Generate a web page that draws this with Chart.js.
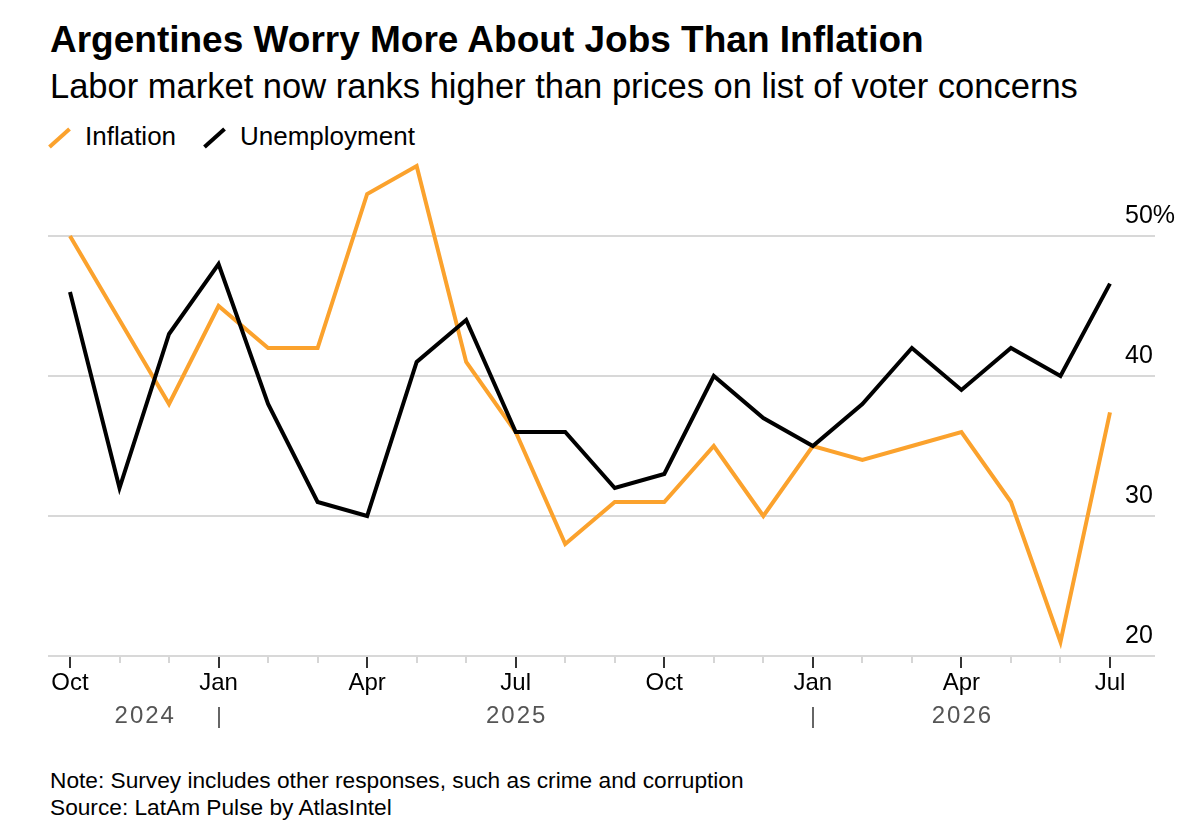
<!DOCTYPE html>
<html lang="en">
<head>
    <meta charset="UTF-8">
    <title>Argentines Worry More About Jobs Than Inflation</title>
    <script src="https://cdn.jsdelivr.net/npm/chart.js"></script>
    <style>
        body { margin: 0; background: #fff; font-family: "Liberation Sans", Arial, sans-serif; color: #000; }
        #page { position: relative; width: 1200px; height: 831px; overflow: hidden; }
        .txt { position: absolute; white-space: nowrap; line-height: 1; }
        #title { left: 50px; top: 21px; font-size: 37px; font-weight: bold; }
        #subtitle { left: 50px; top: 69px; font-size: 34.5px; }
        .legend-text { top: 123px; font-size: 26px; }
        .legend-icon { position: absolute; width: 27px; height: 4px; transform: rotate(-42deg); }
        .note { left: 50px; font-size: 22.7px; }
        #chartBox { position: absolute; left: 0; top: 150px; width: 1200px; height: 580px; }
    </style>
</head>
<body>
    <div id="page">
        <div id="title" class="txt">Argentines Worry More About Jobs Than Inflation</div>
        <div id="subtitle" class="txt">Labor market now ranks higher than prices on list of voter concerns</div>

        <div class="legend-icon" style="left: 46px; top: 136px; background: #fba22d;"></div>
        <div class="txt legend-text" style="left: 85px;">Inflation</div>
        <div class="legend-icon" style="left: 201px; top: 136px; background: #000;"></div>
        <div class="txt legend-text" style="left: 240px;">Unemployment</div>

        <div id="chartBox"><canvas id="chart"></canvas></div>

        <div class="txt note" style="top: 769px;">Note: Survey includes other responses, such as crime and corruption</div>
        <div class="txt note" style="top: 796px;">Source: LatAm Pulse by AtlasIntel</div>
    </div>

    <script>
        // Monthly survey, Oct 2024 - Jul 2026
        const months = ['Oct', 'Nov', 'Dec', 'Jan', 'Feb', 'Mar', 'Apr', 'May', 'Jun', 'Jul', 'Aug', 'Sep',
                        'Oct', 'Nov', 'Dec', 'Jan', 'Feb', 'Mar', 'Apr', 'May', 'Jun', 'Jul'];
        const inflation = [50, 44, 38, 45, 42, 42, 53, 55, 41, 36, 28, 31,
                           31, 35, 30, 35, 34, 35, 36, 31, 21, 37.4];
        const unemployment = [46, 32, 43, 48, 38, 31, 30, 41, 44, 36, 36, 32,
                              33, 40, 37, 35, 38, 42, 39, 42, 40, 46.6];

        // Year labels: text, centre (month index), and the year breaks
        const yearLabels = ['2024', '2025', '2026'];
        const yearCentres = [1.5, 9, 18];
        const yearBreaks = [3, 15];

        const yTicks = [20, 30, 40, 50];
        const yTickLabels = ['20', '30', '40', '50%'];

        const ORANGE = '#fba22d';
        const GRID = '#d8d8d8';

        // Extra axis decorations: tick marks, year row, right-hand value labels
        const decorations = {
            id: 'decorations',
            afterDraw(chart) {
                const { ctx, scales: { x, y }, chartArea } = chart;
                ctx.save();

                // month tick marks under the baseline
                months.forEach((m, i) => {
                    const px = Math.round(x.getPixelForValue(i));
                    const major = i % 3 === 0;
                    ctx.strokeStyle = major ? '#333' : '#c8c8c8';
                    ctx.lineWidth = major ? 2 : 1.5;
                    ctx.beginPath();
                    ctx.moveTo(px, chartArea.bottom + 1);
                    ctx.lineTo(px, chartArea.bottom + (major ? 12 : 7));
                    ctx.stroke();
                });

                // years
                ctx.font = '24px "Liberation Sans", Arial, sans-serif';
                ctx.fillStyle = '#555';
                ctx.textAlign = 'center';
                ctx.textBaseline = 'alphabetic';
                ctx.letterSpacing = '2px';
                yearLabels.forEach((t, i) => {
                    ctx.fillText(t, x.getPixelForValue(yearCentres[i]) + 1, chartArea.bottom + 67);
                });
                ctx.letterSpacing = '0px';
                ctx.strokeStyle = '#666';
                ctx.lineWidth = 2;
                yearBreaks.forEach(b => {
                    const px = Math.round(x.getPixelForValue(b));
                    ctx.beginPath();
                    ctx.moveTo(px, chartArea.bottom + 51);
                    ctx.lineTo(px, chartArea.bottom + 72);
                    ctx.stroke();
                });

                // value labels sitting above the grid lines
                ctx.font = '25px "Liberation Sans", Arial, sans-serif';
                ctx.fillStyle = '#000';
                ctx.textAlign = 'left';
                yTicks.forEach((v, i) => {
                    ctx.fillText(yTickLabels[i], 1125, y.getPixelForValue(v) - 13);
                });

                ctx.restore();
            }
        };

        const ctx = document.getElementById('chart').getContext('2d');
        new Chart(ctx, {
            type: 'line',
            data: {
                datasets: [
                    {
                        label: 'Unemployment',
                        data: unemployment.map((v, i) => ({ x: i, y: v })),
                        borderColor: '#000',
                        borderWidth: 4,
                        pointRadius: 0,
                        tension: 0
                    },
                    {
                        label: 'Inflation',
                        data: inflation.map((v, i) => ({ x: i, y: v })),
                        borderColor: ORANGE,
                        borderWidth: 4,
                        pointRadius: 0,
                        tension: 0
                    }
                ]
            },
            options: {
                responsive: true,
                maintainAspectRatio: false,
                animation: false,
                layout: { padding: { left: 48, right: 45, top: 2, bottom: 0 } },
                plugins: {
                    legend: { display: false },
                    tooltip: { enabled: false }
                },
                scales: {
                    x: {
                        type: 'linear',
                        min: -0.444,
                        max: 21.909,
                        afterBuildTicks: s => { s.ticks = months.map((m, i) => ({ value: i })); },
                        afterFit: s => { s.height = 74; },
                        grid: { display: false, drawTicks: false },
                        border: { display: false },
                        ticks: {
                            autoSkip: false,
                            maxRotation: 0,
                            padding: 13,
                            color: '#000',
                            font: { family: '"Liberation Sans", Arial, sans-serif', size: 24 },
                            callback: v => (v % 3 === 0 ? months[v] : '')
                        }
                    },
                    y: {
                        position: 'right',
                        min: 20,
                        max: 56,
                        afterBuildTicks: s => { s.ticks = yTicks.map(v => ({ value: v })); },
                        afterFit: s => { s.width = 0; },
                        grid: { color: GRID, lineWidth: 2, drawTicks: false },
                        border: { display: false },
                        ticks: { display: false }
                    }
                }
            },
            plugins: [decorations]
        });
    </script>
</body>
</html>
